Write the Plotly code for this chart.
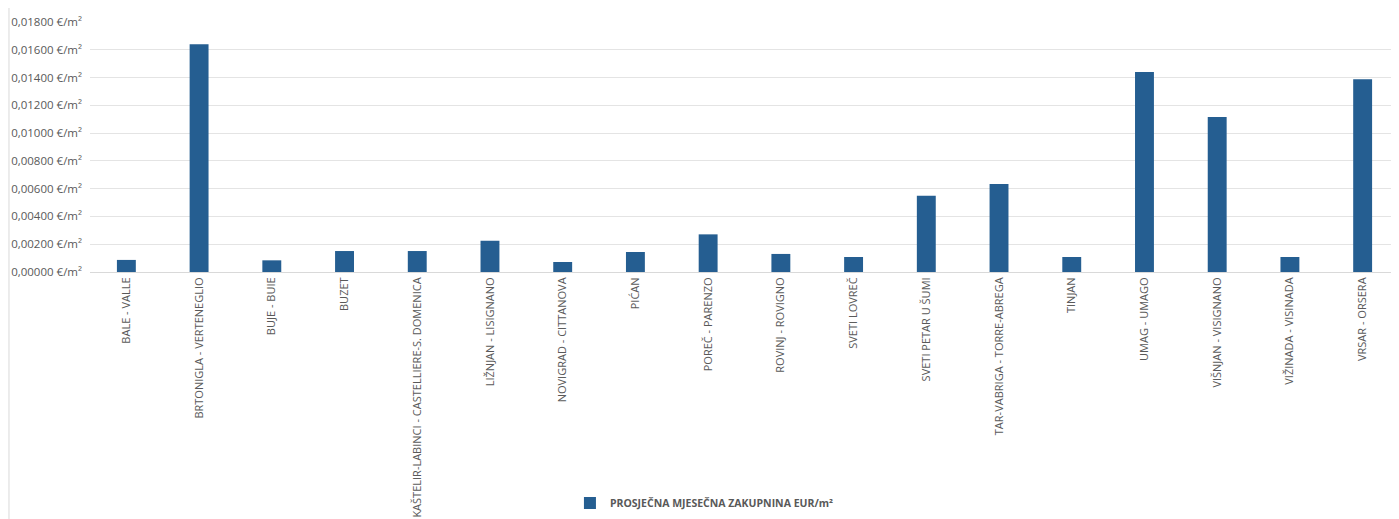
import plotly.graph_objects as go

categories = [
    "BALE - VALLE", "BRTONIGLA - VERTENEGLIO", "BUJE - BUIE", "BUZET",
    "KAŠTELIR-LABINCI - CASTELLIERE-S. DOMENICA", "LIŽNJAN - LISIGNANO",
    "NOVIGRAD - CITTANOVA", "PIĆAN", "POREČ - PARENZO", "ROVINJ - ROVIGNO",
    "SVETI LOVREČ", "SVETI PETAR U ŠUMI", "TAR-VABRIGA - TORRE-ABREGA", "TINJAN",
    "UMAG - UMAGO", "VIŠNJAN - VISIGNANO", "VIŽINADA - VISINADA", "VRSAR - ORSERA",
]
values = [
    0.00087, 0.01640, 0.00084, 0.00151, 0.00151, 0.00225, 0.00072, 0.00144,
    0.00271, 0.00130, 0.00108, 0.00549, 0.00634, 0.00108, 0.01440, 0.01116,
    0.00108, 0.01387,
]
series_name = "PROSJEČNA MJESEČNA ZAKUPNINA EUR/m²"

fig = go.Figure()
fig.add_trace(go.Bar(
    x=categories, y=values, name=series_name,
    marker=dict(color="#255E91", line=dict(width=0)),
    width=0.26,
))

fig.update_layout(
    width=1391, height=511,
    margin=dict(l=82, r=0, t=14, b=247),
    paper_bgcolor="white", plot_bgcolor="white",
    font=dict(family="Open Sans", size=11, color="#595959"),
    separators=", ",
    showlegend=True,
    legend=dict(
        orientation="h", x=0.4694, xanchor="center", y=-0.924, yanchor="middle",
        font=dict(size=10.5, color="#595959", weight="bold"),
        itemwidth=30,
    ),
    shapes=[dict(type="line", xref="paper", yref="paper", x0=-0.0619, x1=-0.0619,
                 y0=-1.1, y1=1.1, line=dict(color="#D9D9D9", width=1))],
)
fig.update_yaxes(
    range=[0, 0.018], dtick=0.002, tickformat=".5f", ticksuffix=" €/m²",
    showgrid=True, gridcolor="#E4E4E4", gridwidth=1,
    zeroline=False, showline=False, ticks="",
    tickfont=dict(size=11.5, color="#595959"), automargin=False,
    ticklabelstandoff=7,
)
fig.update_xaxes(
    tickangle=-90, showline=True, linecolor="#D9D9D9", linewidth=1,
    ticks="", tickfont=dict(size=11, color="#595959"), automargin=False,
    showgrid=False,
)

fig.write_html("out.html")
